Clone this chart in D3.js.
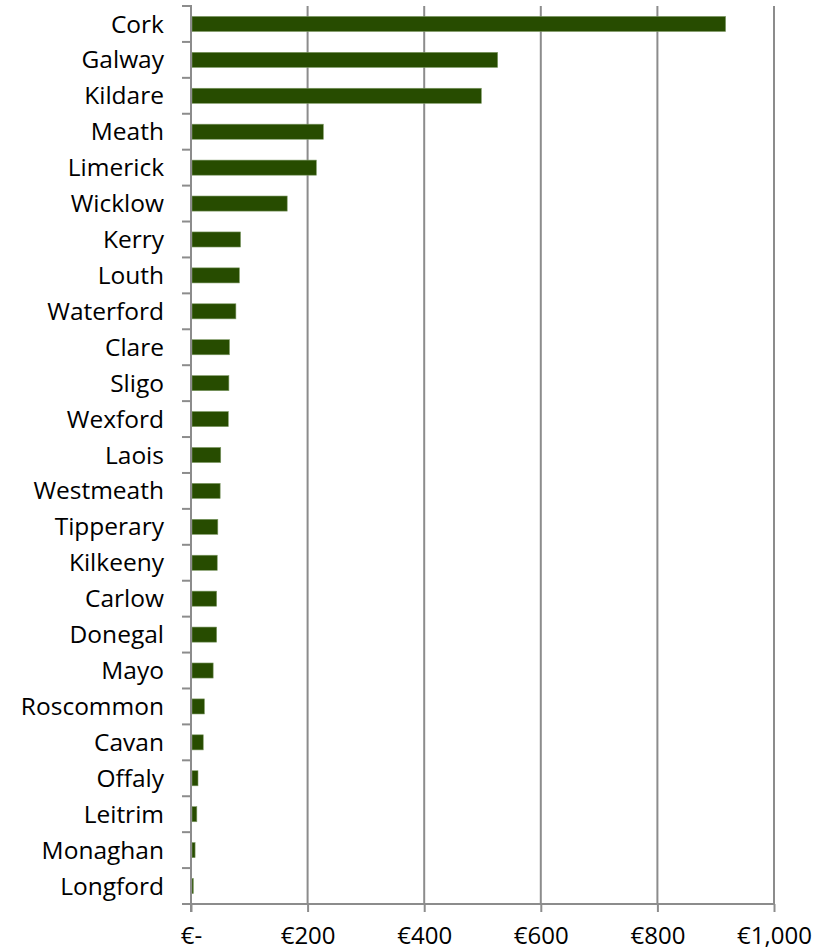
<!DOCTYPE html>
<html>
<head>
<meta charset="utf-8">
<script src="https://cdn.jsdelivr.net/npm/d3@7"></script>
<style>
  html, body { margin: 0; padding: 0; background: #fff; }
  svg text { font-family: "Open Sans", Lato, sans-serif; fill: #000; }
</style>
</head>
<body>
<svg id="chart" width="827" height="950"></svg>
<script>
const counties = ["Cork","Galway","Kildare","Meath","Limerick","Wicklow","Kerry","Louth","Waterford","Clare","Sligo","Wexford","Laois","Westmeath","Tipperary","Kilkeeny","Carlow","Donegal","Mayo","Roscommon","Cavan","Offaly","Leitrim","Monaghan","Longford"];
const values = [917, 526, 498, 227, 215, 165, 85, 83, 77, 66, 65, 64, 51, 50, 46, 45, 44, 44, 38, 23, 21, 12, 10, 7, 4];
const xTicks = [0, 200, 400, 600, 800, 1000];
const xTickLabels = ["€-", "€200", "€400", "€600", "€800", "€1,000"];

const svg = d3.select("#chart");
const plotLeft = 191, plotRight = 774, plotTop = 6, plotBottom = 904;
const gridColor = "#8c8c8c";

const x = d3.scaleLinear().domain([0, 1000]).range([plotLeft, plotRight]);
const y = d3.scaleBand().domain(counties).range([plotTop, plotBottom]).paddingInner(0.58).paddingOuter(0.29);

// gridlines
svg.append("g").selectAll("line").data(xTicks.filter(d => d > 0)).join("line")
  .attr("x1", d => x(d)).attr("x2", d => x(d))
  .attr("y1", plotTop).attr("y2", plotBottom)
  .attr("stroke", gridColor).attr("stroke-width", 2);

// bars
svg.append("g").selectAll("rect").data(counties).join("rect")
  .attr("x", x(0) + 1)
  .attr("y", d => y(d))
  .attr("width", (d, i) => Math.max(0, x(values[i]) - x(0) - 1))
  .attr("height", y.bandwidth())
  .attr("fill", "#274c00")
  .attr("stroke", "#7f9a66").attr("stroke-width", 0.6);

// y axis
const yAxis = d3.axisLeft(y).tickSize(0).tickPadding(27);
const gy = svg.append("g").attr("transform", `translate(${plotLeft},0)`).call(yAxis);
gy.select(".domain").remove();
gy.selectAll("text").style("font-size", "24.5px").attr("dy", "0.35em");

// y ticks at band boundaries
const step = y.step();
const bounds = d3.range(counties.length + 1).map(i => plotTop + i * step);
svg.append("g").selectAll("line").data(bounds).join("line")
  .attr("x1", plotLeft - 9).attr("x2", plotLeft)
  .attr("y1", d => d).attr("y2", d => d)
  .attr("stroke", gridColor).attr("stroke-width", 2);
svg.append("line").attr("x1", plotLeft).attr("x2", plotLeft).attr("y1", plotTop - 1).attr("y2", plotBottom + 8)
  .attr("stroke", gridColor).attr("stroke-width", 2);

// x axis
const xAxis = d3.axisBottom(x).tickValues(xTicks).tickFormat((d, i) => xTickLabels[i]).tickSize(8).tickPadding(15);
const gx = svg.append("g").attr("transform", `translate(0,${plotBottom})`).call(xAxis);
gx.select(".domain").attr("d", `M${plotLeft - 9},0H${plotRight}`).attr("stroke", gridColor).attr("stroke-width", 2);
gx.selectAll(".tick line").attr("stroke", gridColor).attr("stroke-width", 2);
gx.selectAll("text").style("font-size", "24px");
</script>
</body>
</html>
